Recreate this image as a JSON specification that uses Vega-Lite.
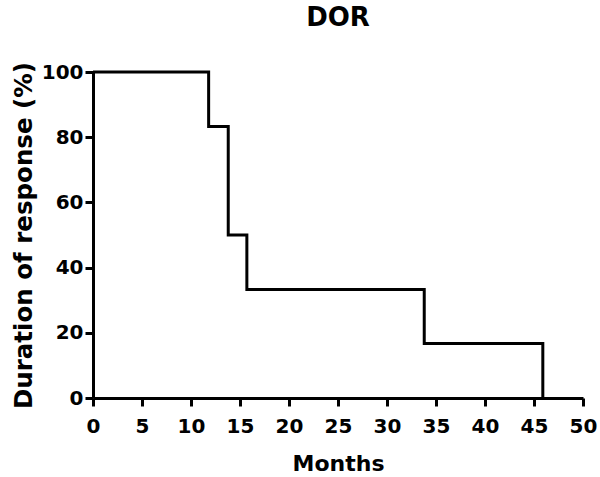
{
  "$schema": "https://vega.github.io/schema/vega-lite/v6.json",
  "autosize": "none",
  "width": 490,
  "height": 326,
  "padding": {"left": 93, "top": 72, "right": 17, "bottom": 79},
  "background": "white",
  "title": {
    "text": "DOR",
    "font": "DejaVu Sans",
    "fontSize": 26,
    "fontWeight": "bold",
    "color": "black",
    "anchor": "middle",
    "offset": 30
  },
  "data": {
    "values": [
      {"months": 0, "pct": 100},
      {"months": 11.8, "pct": 83.3},
      {"months": 13.8, "pct": 50},
      {"months": 15.7, "pct": 33.3},
      {"months": 33.8, "pct": 16.7},
      {"months": 45.9, "pct": 0}
    ]
  },
  "mark": {"type": "line", "interpolate": "step-after", "color": "black", "strokeWidth": 3},
  "encoding": {
    "x": {
      "field": "months",
      "type": "quantitative",
      "scale": {"domain": [0, 50], "nice": false},
      "axis": {
        "values": [0, 5, 10, 15, 20, 25, 30, 35, 40, 45, 50],
        "title": "Months",
        "grid": false,
        "domainColor": "black",
        "domainWidth": 3,
        "tickColor": "black",
        "tickWidth": 3,
        "tickSize": 8,
        "labelFont": "DejaVu Sans",
        "labelFontSize": 20,
        "labelFontWeight": "bold",
        "labelColor": "black",
        "labelPadding": 10,
        "labelFlush": false,
        "titleFont": "DejaVu Sans",
        "titleFontSize": 22,
        "titleFontWeight": "bold",
        "titleColor": "black",
        "titlePadding": 17
      }
    },
    "y": {
      "field": "pct",
      "type": "quantitative",
      "scale": {"domain": [0, 100], "nice": false},
      "axis": {
        "values": [0, 20, 40, 60, 80, 100],
        "title": "Duration of response (%)",
        "grid": false,
        "domainColor": "black",
        "domainWidth": 3,
        "tickColor": "black",
        "tickWidth": 3,
        "tickSize": 8,
        "labelFont": "DejaVu Sans",
        "labelFontSize": 20,
        "labelFontWeight": "bold",
        "labelColor": "black",
        "labelPadding": 2,
        "labelFlush": false,
        "titleFont": "DejaVu Sans",
        "titleFontSize": 24.5,
        "titleFontWeight": "bold",
        "titleColor": "black",
        "titlePadding": 5
      }
    }
  },
  "config": {"view": {"stroke": null}}
}
